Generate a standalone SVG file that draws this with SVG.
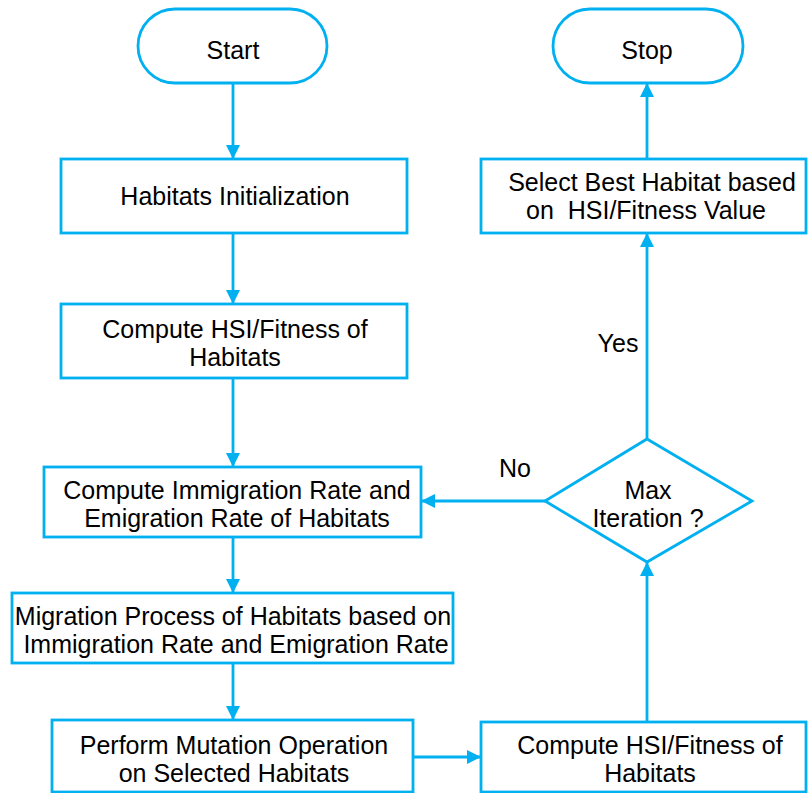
<svg xmlns="http://www.w3.org/2000/svg" width="808" height="793" viewBox="0 0 808 793">
<defs>
<style>
.n{fill:#fff;stroke:#00B0F0;stroke-width:2.8}
.t{font-family:"Liberation Sans",Arial,sans-serif;font-size:25px;fill:#000;text-anchor:middle}
.c{fill:none;stroke:#00B0F0;stroke-width:2.8}
</style>
<marker id="a" viewBox="0 0 14 14" refX="14" refY="7" markerWidth="14" markerHeight="14" markerUnits="userSpaceOnUse" orient="auto">
<path d="M0,0 L14,7 L0,14 Z" fill="#00B0F0"/>
</marker>
</defs>
<rect width="808" height="793" fill="#fff"/>
<g id="connectors">
<path class="c" d="M233,83 V159" marker-end="url(#a)"/>
<path class="c" d="M233,233 V304" marker-end="url(#a)"/>
<path class="c" d="M233,378 V467" marker-end="url(#a)"/>
<path class="c" d="M233,537 V593" marker-end="url(#a)"/>
<path class="c" d="M233,663 V720" marker-end="url(#a)"/>
<path class="c" d="M413,757 H481" marker-end="url(#a)"/>
<path class="c" d="M647,722 V562" marker-end="url(#a)"/>
<path class="c" d="M647,439 V233" marker-end="url(#a)"/>
<path class="c" d="M647,159 V83" marker-end="url(#a)"/>
<path class="c" d="M545,501 H421" marker-end="url(#a)"/>
<text class="t" x="515" y="477">No</text>
<text class="t" x="618" y="352">Yes</text>
</g>
<g id="start">
<rect class="n" x="138" y="9" width="189" height="74" rx="37" ry="37"/>
<text class="t" x="233" y="59">Start</text>
</g>
<g id="stop">
<rect class="n" x="553" y="9" width="190" height="74" rx="37" ry="37"/>
<text class="t" x="647" y="59">Stop</text>
</g>
<g id="init">
<rect class="n" x="61" y="159" width="346" height="74"/>
<text class="t" x="235" y="205">Habitats Initialization</text>
</g>
<g id="fitness1">
<rect class="n" x="61" y="304" width="346" height="74"/>
<text class="t" x="235" y="338">Compute HSI/Fitness of</text>
<text class="t" x="235" y="366">Habitats</text>
</g>
<g id="rates">
<rect class="n" x="44" y="467" width="377" height="70"/>
<text class="t" x="237" y="499">Compute Immigration Rate and</text>
<text class="t" x="237" y="527">Emigration Rate of Habitats</text>
</g>
<g id="migration">
<rect class="n" x="12" y="593" width="441" height="70"/>
<text class="t" x="233" y="625">Migration Process of Habitats based on</text>
<text class="t" x="236" y="653">Immigration Rate and Emigration Rate</text>
</g>
<g id="mutation">
<rect class="n" x="52" y="720" width="361" height="72"/>
<text class="t" x="234" y="754">Perform Mutation Operation</text>
<text class="t" x="234" y="782">on Selected Habitats</text>
</g>
<g id="fitness2">
<rect class="n" x="481" y="722" width="325" height="70"/>
<text class="t" x="650" y="754">Compute HSI/Fitness of</text>
<text class="t" x="650" y="782">Habitats</text>
</g>
<g id="decision">
<polygon class="n" points="647,439 752,501 647,562 545,501"/>
<text class="t" x="648" y="499">Max</text>
<text class="t" x="648" y="527">Iteration ?</text>
</g>
<g id="select">
<rect class="n" x="481" y="159" width="325" height="74"/>
<text class="t" x="652" y="191">Select Best Habitat based</text>
<text class="t" x="646" y="219" xml:space="preserve">on  HSI/Fitness Value</text>
</g>
</svg>
